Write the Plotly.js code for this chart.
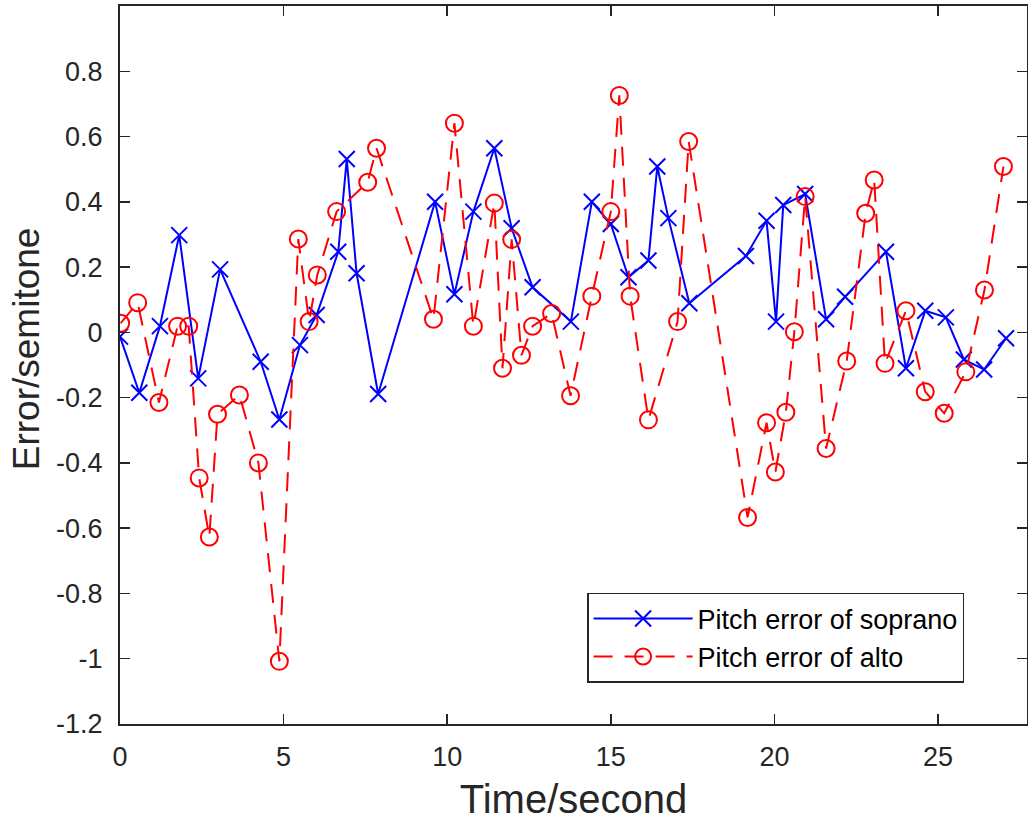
<!DOCTYPE html>
<html>
<head>
<meta charset="utf-8">
<script src="https://cdn.plot.ly/plotly-3.0.1.min.js"></script>
<style>html,body{margin:0;padding:0;background:#fff;}#chart{width:1028px;height:822px;}</style>
</head>
<body>
<div id="chart"></div>
<script>
// Soprano pitch error
var sopranoTime = [0, 0.59, 1.22, 1.81, 2.39, 3.06, 4.30, 4.87, 5.50, 6.01, 6.67, 6.93, 7.23, 7.89, 9.63, 10.22, 10.80, 11.44, 11.97, 12.61, 13.78, 14.42, 15.0, 15.54, 16.15, 16.42, 16.76, 17.40, 19.13, 19.76, 20.05, 20.27, 20.94, 21.58, 22.16, 23.41, 24.02, 24.61, 25.24, 25.79, 26.41, 27.08];
var sopranoError = [-0.013, -0.185, 0.019, 0.298, -0.141, 0.193, -0.09, -0.267, -0.039, 0.053, 0.247, 0.531, 0.181, -0.189, 0.40, 0.117, 0.37, 0.564, 0.319, 0.138, 0.033, 0.40, 0.332, 0.169, 0.22, 0.508, 0.35, 0.089, 0.234, 0.342, 0.033, 0.39, 0.424, 0.04, 0.109, 0.247, -0.11, 0.066, 0.046, -0.083, -0.114, -0.018];

// Alto pitch error
var altoTime = [0.02, 0.54, 1.19, 1.76, 2.10, 2.42, 2.73, 2.98, 3.65, 4.23, 4.87, 5.45, 5.78, 6.03, 6.62, 7.57, 7.84, 9.58, 10.22, 10.80, 11.44, 11.69, 11.97, 12.27, 12.61, 13.19, 13.77, 14.42, 15.0, 15.26, 15.59, 16.15, 17.04, 17.38, 19.18, 19.76, 20.03, 20.35, 20.61, 20.94, 21.58, 22.21, 22.79, 23.05, 23.38, 24.02, 24.61, 25.19, 25.85, 26.42, 27.0];
var altoError = [0.028, 0.091, -0.215, 0.019, 0.019, -0.446, -0.627, -0.251, -0.192, -0.40, -1.008, 0.286, 0.033, 0.176, 0.37, 0.46, 0.564, 0.04, 0.641, 0.019, 0.396, -0.11, 0.285, -0.07, 0.019, 0.058, -0.194, 0.111, 0.37, 0.726, 0.111, -0.268, 0.033, 0.585, -0.567, -0.277, -0.428, -0.245, 0.002, 0.416, -0.356, -0.088, 0.365, 0.467, -0.095, 0.066, -0.182, -0.248, -0.121, 0.13, 0.508];

var xTickVals = [0, 5, 10, 15, 20, 25];
var xTickText = ['0', '5', '10', '15', '20', '25'];
var yTickVals = [-1.2, -1, -0.8, -0.6, -0.4, -0.2, 0, 0.2, 0.4, 0.6, 0.8];
var yTickText = ['-1.2', '-1', '-0.8', '-0.6', '-0.4', '-0.2', '0', '0.2', '0.4', '0.6', '0.8'];

var seriesNames = ['Pitch error of soprano', 'Pitch error of alto'];
var xTitle = 'Time/second';
var yTitle = 'Error/semitone';

var FONT = 'Liberation Sans, Arial, Helvetica, sans-serif';
var AX = '#262626';

var traces = [
  {
    x: sopranoTime, y: sopranoError, name: seriesNames[0],
    type: 'scatter', mode: 'lines+markers',
    line: {color: '#0000FF', width: 2},
    marker: {symbol: 'x-thin-open', size: 16, color: '#0000FF', line: {color: '#0000FF', width: 2}}
  },
  {
    x: altoTime, y: altoError, name: seriesNames[1],
    type: 'scatter', mode: 'lines+markers',
    line: {color: '#FF0000', width: 2, dash: '19px,12px'},
    marker: {symbol: 'circle-open', size: 17, color: '#FF0000', line: {color: '#FF0000', width: 2}}
  }
];

var layout = {
  width: 1028, height: 822,
  margin: {l: 120, r: 1, t: 6, b: 98, pad: 0},
  paper_bgcolor: '#ffffff', plot_bgcolor: '#ffffff',
  font: {family: FONT, color: AX, size: 27},
  showlegend: true,
  legend: {
    x: 0.515, y: 0.1825, xanchor: 'left', yanchor: 'top',
    bgcolor: '#ffffff', bordercolor: AX, borderwidth: 1.5,
    font: {family: FONT, size: 27, color: '#000000'},
    itemwidth: 99, tracegroupgap: 0
  },
  xaxis: {
    range: [0, 27.72], tickmode: 'array', tickvals: xTickVals, ticktext: xTickText,
    ticks: 'inside', ticklen: 10, tickwidth: 1.5, tickcolor: AX,
    showline: true, linecolor: AX, linewidth: 2, mirror: 'ticks',
    showgrid: false, zeroline: false,
    tickfont: {family: FONT, size: 27, color: AX},
    ticklabelstandoff: 8,
    title: {text: xTitle, font: {family: FONT, size: 40, color: AX}, standoff: 14}
  },
  yaxis: {
    range: [-1.2, 1.0], tickmode: 'array', tickvals: yTickVals, ticktext: yTickText,
    ticks: 'inside', ticklen: 10, tickwidth: 1.5, tickcolor: AX,
    showline: true, linecolor: AX, linewidth: 2, mirror: 'ticks',
    showgrid: false, zeroline: false,
    tickfont: {family: FONT, size: 27, color: AX},
    ticklabelstandoff: 10
  },
  annotations: [
    {
      text: yTitle, xref: 'paper', yref: 'paper', x: -0.1036, y: 0.522,
      xanchor: 'center', yanchor: 'middle', textangle: -90, showarrow: false,
      font: {family: FONT, size: 37, color: AX}
    }
  ]
};

Plotly.newPlot('chart', traces, layout, {displayModeBar: false, staticPlot: true});
</script>
</body>
</html>
